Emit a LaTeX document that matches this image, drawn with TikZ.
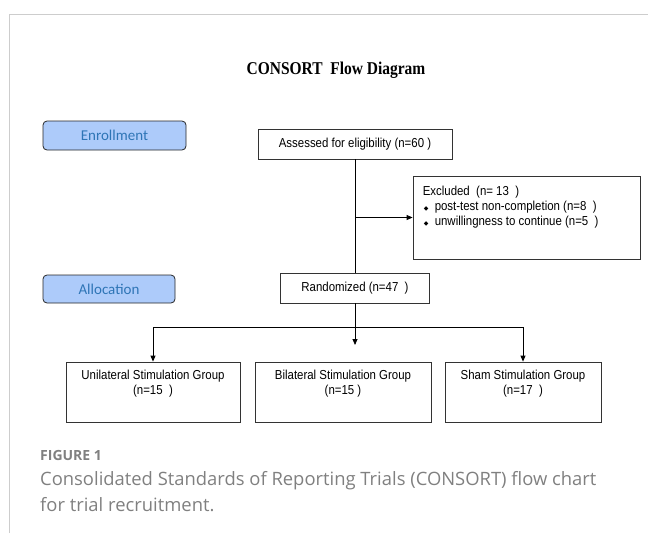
\documentclass[tikz,border=0pt]{standalone}
\usepackage{fontspec}
\setmainfont{Liberation Sans}
\newfontfamily\boxfont{Liberation Sans}[FakeStretch=0.88]
\newfontfamily\titlefont{Liberation Serif}[FakeStretch=0.86]
\newfontfamily\stagefont{Carlito}
\newfontfamily\captionfont{Open Sans}
\newfontfamily\symfont{DejaVu Sans}
\usetikzlibrary{arrows.meta}
\definecolor{stagefill}{RGB}{173,203,250}
\definecolor{stagetext}{RGB}{46,117,182}
\definecolor{framegray}{RGB}{205,205,205}
\definecolor{capgray}{RGB}{128,128,128}
\newcommand{\exbullet}{{\symfont\fontsize{6}{6}\selectfont ◆}}

\begin{document}
\begin{tikzpicture}[x=1pt, y=-1pt,
    box/.style={draw=black!80, line width=0.8pt, inner sep=0pt, font=\boxfont\fontsize{13}{15}\selectfont},
    grouptext/.style={anchor=north, align=center, inner sep=0pt, font=\boxfont\fontsize{13}{15}\selectfont},
    stage/.style={draw=black!85, line width=0.8pt, fill=stagefill, rounded corners=4pt, inner sep=0pt, minimum height=29pt, text=stagetext, font=\stagefont\fontsize{15}{18}\selectfont},
    flow/.style={line width=0.8pt},
    arr/.style={flow, -{Triangle[length=6pt, width=5pt]}}]
    \useasboundingbox (0,0) rectangle (648,533);

    % Page frame
    \draw[framegray, line width=1pt] (9,533) -- (9,14) -- (648,14);

    % Title
    \node[font=\titlefont\bfseries\fontsize{18}{21}\selectfont] (title) at (336,70) {CONSORT\ \ Flow Diagram};

    % Stage labels
    \node[stage, minimum width=143pt] (enrol) at (114.5,135.5) {Enrollment};
    \node[stage, minimum width=132pt, minimum height=28pt] (alloc) at (109,289) {Allocation};

    % Enrollment
    \node[box, minimum width=194pt, minimum height=30pt] (assess) at (355,144) {Assessed for eligibility (n=60 )};
    \node[box, minimum width=227pt, minimum height=83pt] (excl) at (526.5,217.5) {};
    \node[anchor=north west, align=left, inner sep=0pt, font=\boxfont\fontsize{13}{15}\selectfont] (excl-text) at ([xshift=10pt, yshift=-10pt]excl.north west)
        {Excluded\ \ (n= 13\ \ )\\
         \hspace{1pt}\exbullet\ \ post-test non-completion (n=8\ \ )\\
         \hspace{1pt}\exbullet\ \ unwillingness to continue (n=5\ \ )};

    % Allocation
    \node[box, minimum width=149pt, minimum height=30pt] (rand) at (355,288) {Randomized (n=47\ \ )};
    \coordinate (split) at (355,327);
    \coordinate (mid) at (355,345);

    % Groups
    \node[box, minimum width=174pt, minimum height=60pt] (uni) at (153,392) {};
    \node[box, minimum width=176pt, minimum height=60pt] (bil) at (343,392) {};
    \node[box, minimum width=156pt, minimum height=60pt] (sham) at (523,392) {};
    \node[grouptext] (uni-text) at ([yshift=-8pt]uni.north) {Unilateral Stimulation Group\\(n=15\ \ )};
    \node[grouptext] (bil-text) at ([yshift=-8pt]bil.north) {Bilateral Stimulation Group\\(n=15 )};
    \node[grouptext] (sham-text) at ([yshift=-8pt]sham.north) {Sham Stimulation Group\\(n=17\ \ )};

    % Connectors
    \draw[flow] (assess) -- (rand);
    \draw[arr] (excl.west -| assess.south) -- (excl.west);
    \draw[flow] (rand) -- (split);
    \draw[arr] (split) -- (mid);
    \draw[arr] (split) -| (uni.north);
    \draw[arr] (split) -| (sham.north);

    % Caption
    \node[anchor=west, inner sep=0pt, text=capgray, font=\captionfont\bfseries\fontsize{14}{17}\selectfont] (figlabel) at (40,455) {FIGURE 1};
    \node[anchor=north west, align=left, inner sep=0pt, text=capgray, font=\captionfont\fontsize{18.4}{26}\selectfont] (caption) at (40,471)
        {Consolidated Standards of Reporting Trials (CONSORT) flow chart\\for trial recruitment.};
\end{tikzpicture}
\end{document}
